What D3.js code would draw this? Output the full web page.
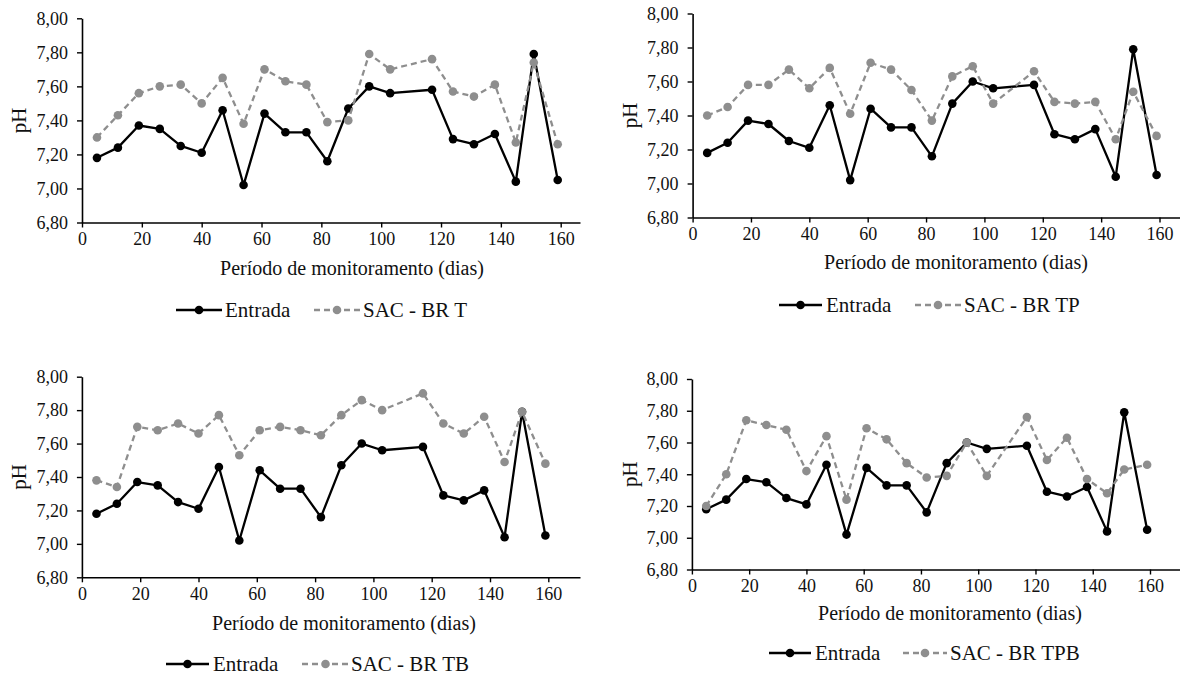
<!DOCTYPE html>
<html>
<head>
<meta charset="utf-8">
<script src="https://cdn.jsdelivr.net/npm/d3@7/dist/d3.min.js"></script>
<style>
  html, body { margin: 0; padding: 0; background: #fff; }
  svg, svg text { font-family: "Liberation Serif", "Times New Roman", Times, serif !important; }
</style>
</head>
<body>
<svg id="chart" width="1180" height="675" font-family="Liberation Serif, Times New Roman, serif"></svg>
<script>
// ---- Data ----
const days = [5, 12, 19, 26, 33, 40, 47, 54, 61, 68, 75, 82, 89, 96, 103, 117, 124, 131, 138, 145, 151, 159];
const entrada = [7.18, 7.24, 7.37, 7.35, 7.25, 7.21, 7.46, 7.02, 7.44, 7.33, 7.33, 7.16, 7.47, 7.60, 7.56, 7.58, 7.29, 7.26, 7.32, 7.04, 7.79, 7.05];
const sacT   = [7.30, 7.43, 7.56, 7.60, 7.61, 7.50, 7.65, 7.38, 7.70, 7.63, 7.61, 7.39, 7.40, 7.79, 7.70, 7.76, 7.57, 7.54, 7.61, 7.27, 7.74, 7.26];
const sacTP  = [7.40, 7.45, 7.58, 7.58, 7.67, 7.56, 7.68, 7.41, 7.71, 7.67, 7.55, 7.37, 7.63, 7.69, 7.47, 7.66, 7.48, 7.47, 7.48, 7.26, 7.54, 7.28];
const sacTB  = [7.38, 7.34, 7.70, 7.68, 7.72, 7.66, 7.77, 7.53, 7.68, 7.70, 7.68, 7.65, 7.77, 7.86, 7.80, 7.90, 7.72, 7.66, 7.76, 7.49, 7.79, 7.48];
const sacTPB = [7.20, 7.40, 7.74, 7.71, 7.68, 7.42, 7.64, 7.24, 7.69, 7.62, 7.47, 7.38, 7.39, 7.60, 7.39, 7.76, 7.49, 7.63, 7.37, 7.28, 7.43, 7.46];
const seriesNames = ["SAC - BR T", "SAC - BR TP", "SAC - BR TB", "SAC - BR TPB"];
const entradaName = "Entrada";
const xTicks = [0, 20, 40, 60, 80, 100, 120, 140, 160];
const yTicks = [6.80, 7.00, 7.20, 7.40, 7.60, 7.80, 8.00];
const xTitle = "Período de monitoramento (dias)";
const yTitle = "pH";

// ---- Layout (pixel positions per panel) ----
const panels = [
  { sac: sacT,   name: seriesNames[0], x0: 82,  x160: 560.7, xEnd: 580,  yTop: 18.3, yBot: 222.5,
    xtX: 352, xtY: 268, ytX: 19, leg: { y: 310, l1: 176, l2: 222, t1: 225, d1: 314, d2: 360, t2: 363 } },
  { sac: sacTP,  name: seriesNames[1], x0: 692.6, x160: 1159.5, xEnd: 1180, yTop: 13.5, yBot: 217.5,
    xtX: 956, xtY: 262, ytX: 630, leg: { y: 305, l1: 779, l2: 822, t1: 826, d1: 915, d2: 961, t2: 964 } },
  { sac: sacTB,  name: seriesNames[2], x0: 81.9, x160: 548.3, xEnd: 580, yTop: 376.7, yBot: 577.3,
    xtX: 344, xtY: 623, ytX: 19, leg: { y: 664, l1: 166, l2: 209, t1: 213, d1: 302, d2: 349, t2: 351 } },
  { sac: sacTPB, name: seriesNames[3], x0: 691.9, x160: 1150, xEnd: 1180, yTop: 379, yBot: 569.5,
    xtX: 950, xtY: 613, ytX: 630, leg: { y: 653, l1: 769, l2: 811, t1: 815, d1: 903, d2: 947, t2: 950 } }
];

const FONT = "Liberation Serif, Times New Roman, serif";
const BLACK = "#000";
const GREY = "#8e8e8e";
const fmt = v => d3.format(".2f")(v).replace(".", ",");

const svg = d3.select("#chart");

panels.forEach(p => {
  const g = svg.append("g").attr("font-family", FONT);
  const xMax = 160 * (p.xEnd - p.x0) / (p.x160 - p.x0);
  const x = d3.scaleLinear().domain([0, xMax]).range([p.x0, p.xEnd]);
  const y = d3.scaleLinear().domain([6.8, 8.0]).range([p.yBot, p.yTop]);

  // axes
  const ax = g.append("g").attr("transform", `translate(0,${p.yBot})`)
    .call(d3.axisBottom(x).tickValues(xTicks).tickSize(5).tickSizeOuter(0).tickPadding(5).tickFormat(d3.format("d")));
  const ay = g.append("g").attr("transform", `translate(${p.x0},0)`)
    .call(d3.axisLeft(y).tickValues(yTicks).tickSize(5).tickSizeOuter(0).tickPadding(9).tickFormat(fmt));
  [ax, ay].forEach(a => {
    a.attr("font-family", FONT).attr("font-size", 18);
    a.select(".domain").attr("stroke", BLACK).attr("stroke-width", 1.6);
    a.selectAll(".tick line").attr("stroke", BLACK).attr("stroke-width", 1.4);
    a.selectAll(".tick text").attr("fill", "#111").attr("font-family", FONT).attr("font-size", 18);
  });

  // titles
  g.append("text").attr("x", p.xtX).attr("y", p.xtY).attr("dy", "0.35em")
    .attr("font-family", FONT).attr("fill", "#111")
    .attr("text-anchor", "middle").attr("font-size", 20).text(xTitle);
  const ymid = (p.yTop + p.yBot) / 2;
  g.append("text").attr("transform", `translate(${p.ytX},${ymid}) rotate(-90)`).attr("dy", "0.35em")
    .attr("font-family", FONT).attr("fill", "#111")
    .attr("text-anchor", "middle").attr("font-size", 21).text(yTitle);

  const line = d3.line().x((d, i) => x(days[i])).y(d => y(d));

  // Entrada
  g.append("path").datum(entrada).attr("d", line).attr("fill", "none")
    .attr("stroke", BLACK).attr("stroke-width", 2.3).attr("stroke-linejoin", "round");
  g.selectAll(".pe").data(entrada).join("circle")
    .attr("cx", (d, i) => x(days[i])).attr("cy", d => y(d)).attr("r", 4.3).attr("fill", BLACK);

  // SAC
  g.append("path").datum(p.sac).attr("d", line).attr("fill", "none")
    .attr("stroke", GREY).attr("stroke-width", 2.3).attr("stroke-dasharray", "6,4");
  g.selectAll(".ps").data(p.sac).join("circle")
    .attr("cx", (d, i) => x(days[i])).attr("cy", d => y(d)).attr("r", 4.3).attr("fill", GREY);

  // legend
  const L = p.leg;
  g.append("line").attr("x1", L.l1).attr("x2", L.l2).attr("y1", L.y).attr("y2", L.y)
    .attr("stroke", BLACK).attr("stroke-width", 2.3);
  g.append("circle").attr("cx", (L.l1 + L.l2) / 2).attr("cy", L.y).attr("r", 4.3).attr("fill", BLACK);
  g.append("text").attr("x", L.t1).attr("y", L.y).attr("dy", "0.35em").attr("font-family", FONT)
    .attr("fill", "#111").attr("font-size", 21).text(entradaName);
  g.append("line").attr("x1", L.d1).attr("x2", L.d2).attr("y1", L.y).attr("y2", L.y)
    .attr("stroke", GREY).attr("stroke-width", 2.3).attr("stroke-dasharray", "6,4");
  g.append("circle").attr("cx", (L.d1 + L.d2) / 2).attr("cy", L.y).attr("r", 4.3).attr("fill", GREY);
  g.append("text").attr("x", L.t2).attr("y", L.y).attr("dy", "0.35em").attr("font-family", FONT)
    .attr("fill", "#111").attr("font-size", 21).text(p.name);
});
</script>
</body>
</html>
